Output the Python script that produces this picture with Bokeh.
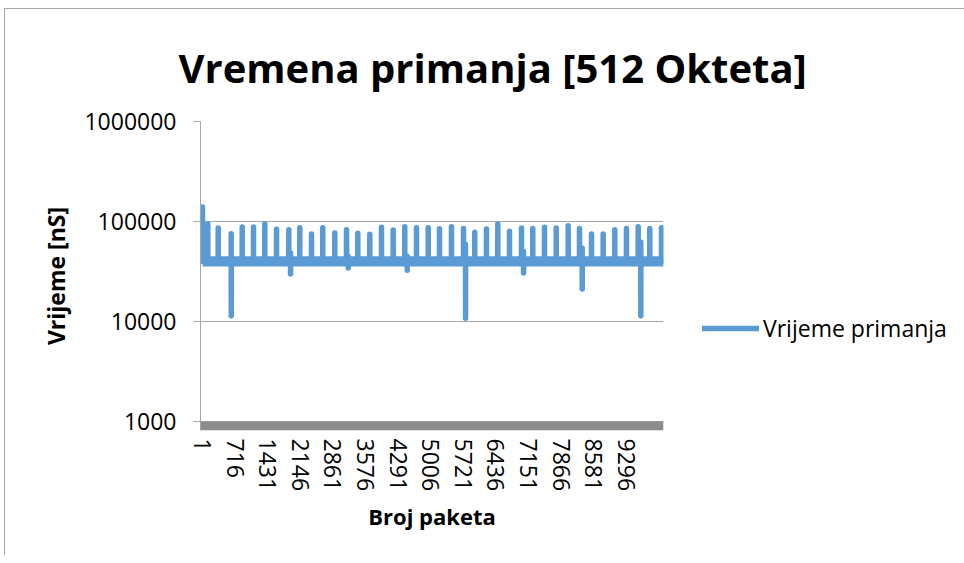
from bokeh.plotting import figure
from bokeh.models import Range1d, FixedTicker, BoxAnnotation, Title, Legend, LegendItem
from bokeh.embed import file_html
from bokeh.resources import INLINE

# ---------------- data ----------------
title_text = "Vremena primanja [512 Okteta]"
x_label = "Broj paketa"
y_label = "Vrijeme [nS]"
series_name = "Vrijeme primanja"

n_packets = 10110          # last packet number on the category axis
base_value = 40000         # dense base band of receive times [nS]

# upward spikes (packet number, value in nS)
peak_packets = [1, 117, 345, 630, 872, 1119, 1367, 1624, 1894, 2135, 2391,
                2639, 2902, 3159, 3407, 3670, 3926, 4183, 4437, 4694, 4951,
                5198, 5461, 5725, 5972, 6229, 6477, 6733, 6997, 7244, 7501,
                7758, 8021, 8269, 8532, 8788, 9043, 9299, 9556, 9810, 10067]
peak_values = [140000, 94400, 86100, 75500, 88100, 88100, 94400, 83600, 82800,
               86700, 75000, 86700, 76700, 82800, 76200, 74500, 87500, 82200,
               88700, 86700, 86700, 84700, 88700, 85000, 78000, 84100, 94400,
               79800, 86100, 85000, 87500, 86100, 90800, 85000, 75000, 75000,
               82800, 85000, 88700, 85000, 86700]

# downward dips (packet number, shoulder value before the drop, dip value)
dip_packets = [631, 1931, 3196, 4490, 5769, 7041, 8328, 9613]
dip_shoulders = [40000, 48400, 45000, 45000, 58900, 50000, 54300, 62400]
dip_values = [11400, 29900, 34300, 32500, 10800, 30500, 21100, 11400]

x_ticks = [1, 716, 1431, 2146, 2861, 3576, 4291, 5006, 5721, 6436, 7151,
           7866, 8581, 9296]
x_tick_labels = ["1", "716", "1431", "2146", "2861", "3576", "4291", "5006",
                 "5721", "6436", "7151", "7866", "8581", "9296"]
y_ticks = [1000, 10000, 100000, 1000000]
y_tick_labels = ["1000", "10000", "100000", "1000000"]

# ---------------- build the line from the lists ----------------
pts = []
for pk, v in zip(peak_packets, peak_values):
    pts += [(pk - 1, base_value), (pk, v), (pk + 1, base_value)]
for pk, s, d in zip(dip_packets, dip_shoulders, dip_values):
    pts += [(pk - 1, base_value), (pk, s), (pk + 1, d), (pk + 2, base_value)]
pts.append((n_packets, base_value))
pts.sort(key=lambda t: t[0])
xs = [t[0] for t in pts]
ys = [t[1] for t in pts]

BLUE = "#5b9bd5"
GRID = "#a6a6a6"
FONT = "Open Sans"

p = figure(frame_width=463, frame_height=309,
           x_range=Range1d(-43, 10111), y_range=Range1d(812.8, 1000000),
           y_axis_type="log", output_backend="svg", toolbar_location=None,
           min_border_left=195, min_border_top=112, min_border_right=300,
           min_border_bottom=125, title=None)
p.outline_line_color = None
p.background_fill_color = "white"
p.border_fill_color = "white"
p.styles = {"margin-left": "4px", "margin-top": "8px",
            "border-left": "1px solid #a6a6a6",
            "border-top": "1px solid #a6a6a6"}

# gray thick category-axis band under the 1000 line
p.add_layout(BoxAnnotation(top=1000, fill_color="#8c8c8c", fill_alpha=1.0,
                           line_color=None, level="underlay"))

# dense base band and the spikes
p.line([1, n_packets], [base_value, base_value], line_width=10.3,
       line_color=BLUE, line_cap="butt")
spikes = p.line(xs, ys, line_width=5.5, line_color=BLUE,
                line_cap="round", line_join="round")

# grid
p.xgrid.visible = False
p.ygrid.ticker = FixedTicker(ticks=y_ticks)
p.ygrid.grid_line_color = GRID
p.ygrid.grid_line_width = 1.2

# y axis
ya = p.yaxis[0]
ya.ticker = FixedTicker(ticks=y_ticks, minor_ticks=[])
ya.major_label_overrides = {t: l for t, l in zip(y_ticks, y_tick_labels)}
ya.axis_line_color = GRID
ya.major_tick_line_color = GRID
ya.major_tick_out = 7
ya.major_tick_in = 0
ya.minor_tick_line_color = None
ya.major_label_standoff = 17
ya.major_label_text_font = FONT
ya.major_label_text_font_size = "23px"
ya.major_label_text_color = "black"
ya.axis_label = y_label
ya.axis_label_text_font = FONT
ya.axis_label_text_font_style = "bold"
ya.axis_label_text_font_size = "23px"
ya.axis_label_text_color = "black"
ya.axis_label_standoff = 9

# x axis
xa = p.xaxis[0]
xa.ticker = FixedTicker(ticks=x_ticks, minor_ticks=[])
xa.major_label_overrides = {t: l for t, l in zip(x_ticks, x_tick_labels)}
xa.major_label_orientation = "vertical"
xa.axis_line_color = None
xa.major_tick_line_color = None
xa.minor_tick_line_color = None
xa.major_tick_out = 0
xa.major_label_standoff = 8
xa.major_label_text_font = FONT
xa.major_label_text_font_size = "23px"
xa.major_label_text_color = "black"
xa.axis_label = x_label
xa.axis_label_text_font = FONT
xa.axis_label_text_font_style = "bold"
xa.axis_label_text_font_size = "22px"
xa.axis_label_text_color = "black"
xa.axis_label_standoff = 7

# title
p.add_layout(Title(text=title_text, align="left", offset=-22, standoff=54,
                   text_font=FONT, text_font_style="bold",
                   text_font_size="40px", text_color="black"), "above")

# legend
legend = Legend(items=[LegendItem(label=series_name, renderers=[spikes])],
                location=(39, 86), orientation="vertical",
                glyph_width=57, glyph_height=20, label_standoff=4,
                padding=0, margin=0, spacing=0,
                border_line_color=None, background_fill_alpha=0,
                label_text_font=FONT, label_text_font_size="23px",
                label_text_color="black")
p.add_layout(legend, "right")

open("out.html", "w").write(file_html(p, INLINE))
